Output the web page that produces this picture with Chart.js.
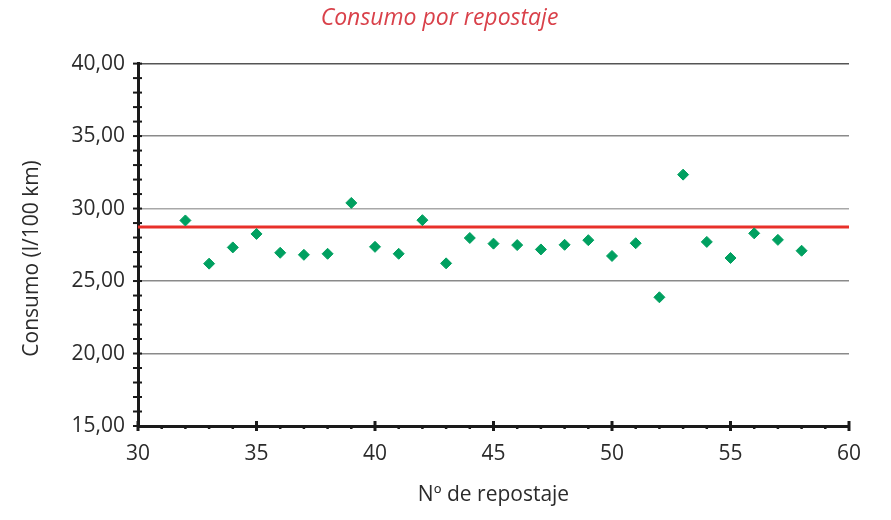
<!DOCTYPE html>
<html>
<head>
<meta charset="utf-8">
<script src="https://cdn.jsdelivr.net/npm/chart.js@4/dist/chart.umd.min.js"></script>
<style>
  html, body { margin: 0; padding: 0; background: #fff; }
  #wrap { width: 891px; height: 520px; }
</style>
</head>
<body>
<div id="wrap"><canvas id="myChart"></canvas></div>
<script>
// datos
const repostajes = [32, 33, 34, 35, 36, 37, 38, 39, 40, 41, 42, 43, 44, 45,
                    46, 47, 48, 49, 50, 51, 52, 53, 54, 55, 56, 57, 58];
const consumo = [29.18, 26.20, 27.32, 28.25, 26.95, 26.81, 26.88, 30.39, 27.36, 26.88, 29.20, 26.22, 27.97, 27.58,
                 27.48, 27.18, 27.50, 27.82, 26.73, 27.61, 23.88, 32.34, 27.70, 26.59, 28.29, 27.84, 27.09];
const mediaX = [30, 60];
const mediaValor = 28.72;
const ticksY = [15, 20, 25, 30, 35, 40];
const ticksX = [30, 35, 40, 45, 50, 55, 60];

const fuente = "'Open Sans', 'DejaVu Sans', sans-serif";

// marcas de eje que cruzan la linea (como en el original)
const marcasEjes = {
    id: 'marcasEjes',
    afterDraw(chart) {
        const ctx = chart.ctx;
        const x = chart.scales.x, y = chart.scales.y;
        const x0 = x.left, y0 = y.bottom;
        ctx.save();
        ctx.strokeStyle = '#1a1a1a';
        ctx.lineWidth = 2;
        for (let v = y.min; v <= y.max; v++) {
            const py = y.getPixelForValue(v);
            ctx.beginPath();
            ctx.moveTo(x0 - 5, py);
            ctx.lineTo(x0 + 4, py);
            ctx.stroke();
        }
        for (let v = x.min; v <= x.max; v++) {
            const px = x.getPixelForValue(v);
            ctx.beginPath();
            if (v % 5 === 0) {
                ctx.lineWidth = 3;
                ctx.moveTo(px, y0 - 5);
                ctx.lineTo(px, y0 + 5);
            } else {
                ctx.lineWidth = 2.5;
                ctx.moveTo(px, y0 + 0.5);
                ctx.lineTo(px, y0 + 3);
            }
            ctx.stroke();
        }
        ctx.restore();
    }
};

const ctx = document.getElementById('myChart').getContext('2d');
new Chart(ctx, {
    type: 'scatter',
    data: {
        datasets: [
            {
                label: 'Media',
                type: 'line',
                data: mediaX.map(function(v) { return { x: v, y: mediaValor }; }),
                borderColor: '#E8302A',
                borderWidth: 3,
                pointRadius: 0,
                fill: false,
                order: 2
            },
            {
                label: 'Consumo',
                data: repostajes.map(function(r, i) { return { x: r, y: consumo[i] }; }),
                pointStyle: 'rectRot',
                pointRadius: 5.5,
                pointHoverRadius: 6,
                backgroundColor: '#00A060',
                borderColor: '#00A060',
                borderWidth: 1,
                order: 1
            }
        ]
    },
    options: {
        responsive: true,
        maintainAspectRatio: false,
        animation: false,
        layout: {
            padding: { left: 0, right: 12, top: 0, bottom: 0 }
        },
        scales: {
            x: {
                type: 'linear',
                min: 30,
                max: 60,
                afterBuildTicks: function(scale) {
                    scale.ticks = ticksX.map(function(v) { return { value: v }; });
                },
                afterFit: function(scale) { scale.height = 94; },
                grid: { display: false, drawTicks: false },
                border: { display: true, color: '#1a1a1a', width: 3 },
                ticks: {
                    padding: 15,
                    color: '#2b2b2b',
                    font: { family: fuente, size: 21 }
                },
                title: {
                    display: true,
                    text: 'Nº de repostaje',
                    color: '#2b2b2b',
                    font: { family: fuente, size: 21 },
                    padding: { top: 0, bottom: 12 }
                }
            },
            y: {
                min: 15,
                max: 40,
                afterBuildTicks: function(scale) {
                    scale.ticks = ticksY.map(function(v) { return { value: v }; });
                },
                afterFit: function(scale) { scale.width = 138; },
                grid: {
                    drawTicks: false,
                    lineWidth: 1.5,
                    color: function(c) {
                        const v = c.tick ? c.tick.value : 0;
                        if (v === 40) return '#555555';
                        if (v === 30) return '#a8a8a8';
                        return '#8a8a8a';
                    }
                },
                border: { display: true, color: '#1a1a1a', width: 3 },
                ticks: {
                    padding: 13,
                    color: '#2b2b2b',
                    font: { family: fuente, size: 21 },
                    callback: function(v) { return v.toFixed(2).replace('.', ','); }
                },
                title: {
                    display: true,
                    text: 'Consumo (l/100 km)     ',
                    color: '#2b2b2b',
                    font: { family: fuente, size: 21 },
                    padding: { top: 19, bottom: 19 }
                }
            },
            // eje vacio a la derecha: solo reserva el margen
            y2: {
                position: 'right',
                display: true,
                afterFit: function(scale) { scale.width = 30; },
                grid: { display: false, drawTicks: false },
                border: { display: false },
                ticks: { display: false }
            }
        },
        plugins: {
            legend: { display: false },
            tooltip: { enabled: false },
            title: {
                display: true,
                text: 'Consumo por repostaje',
                color: '#D9414A',
                font: { family: fuente, size: 23, style: 'italic', weight: '500' },
                padding: { top: 5, bottom: 31 }
            }
        }
    },
    plugins: [marcasEjes]
});
</script>
</body>
</html>
